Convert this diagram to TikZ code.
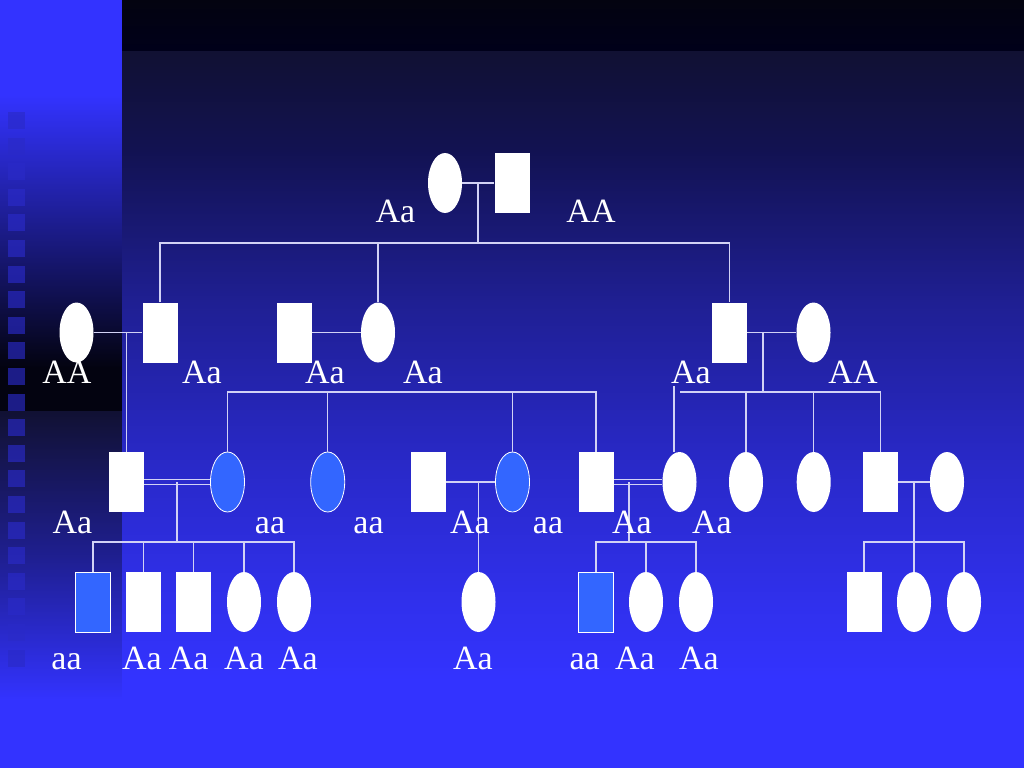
\documentclass[tikz,border=0pt]{standalone}
\usepackage{fontspec}
\setmainfont{Liberation Serif}
\usetikzlibrary{shapes.geometric}
\definecolor{bgblue}{HTML}{3333FF}
\definecolor{bgdark}{HTML}{111133}
\definecolor{bgA}{HTML}{121252}
\definecolor{bgB}{HTML}{1F1F92}
\definecolor{bgC}{HTML}{2828C4}
\definecolor{bgD}{HTML}{3030EC}
\definecolor{stripdark}{HTML}{00001A}
\definecolor{striptop}{HTML}{030310}
\definecolor{banddark}{HTML}{030310}
\definecolor{sqcol}{HTML}{2A2AC8}
\definecolor{affblue}{HTML}{3366FF}
\definecolor{linecol}{RGB}{210,210,245}
\tikzset{
  fem/.style={ellipse, fill=white, minimum width=34pt, minimum height=60pt, inner sep=0pt},
  mal/.style={rectangle, fill=white, minimum width=35pt, minimum height=60pt, inner sep=0pt},
  aff/.style={fill=affblue, draw=white, line width=0.8pt},
  lbl/.style={text=white, font=\fontsize{34}{40}\selectfont, anchor=base, inner sep=0pt},
  ln/.style={draw=linecol, line width=1.3pt}
}
\begin{document}
\begin{tikzpicture}[x=1pt,y=-1pt]
% ---------- background ----------
\useasboundingbox (0,0) rectangle (1024,768);
% left band
\fill[bgblue] (0,0) rectangle (122,96);
\shade[top color=bgblue, bottom color=banddark] (0,95) rectangle (122,368);
\fill[banddark] (0,367) rectangle (122,412);
\shade[top color=bgdark, bottom color=bgB] (0,411) rectangle (122,560);
\shade[top color=bgB, bottom color=bgblue] (0,559) rectangle (122,700);
\fill[bgblue] (0,699) rectangle (122,768);
\foreach \k in {0,...,21} {
  \fill[sqcol, opacity=0.65] (8,{112+25.6*\k}) rectangle (25,{129+25.6*\k});
}
% main area
\shade[top color=striptop, bottom color=stripdark] (122,0) rectangle (1024,52);
\shade[top color=bgdark, bottom color=bgA] (122,52) rectangle (1024,151);
\shade[top color=bgA, bottom color=bgB] (122,150) rectangle (1024,301);
\shade[top color=bgB, bottom color=bgC] (122,300) rectangle (1024,451);
\shade[top color=bgC, bottom color=bgD] (122,450) rectangle (1024,601);
\shade[top color=bgD, bottom color=bgblue] (122,600) rectangle (1024,681);
\fill[bgblue] (122,680) rectangle (1024,768);

% ---------- generation I ----------
\node[fem] (a1) at (445,183) {};
\node[mal] (a2) at (512,183) {};
% ---------- generation II ----------
\node[fem] (b1) at (76.5,332.5) {};
\node[mal] (b2) at (160,332.5) {};
\node[mal] (b3) at (294.5,332.5) {};
\node[fem] (b4) at (378,332.5) {};
\node[mal] (b5) at (729.5,332.5) {};
\node[fem] (b6) at (813.5,332.5) {};
% ---------- generation III ----------
\node[mal] (c1) at (126.7,482) {};
\node[fem,aff] (c2) at (227.5,482) {};
\node[fem,aff] (c3) at (327.7,482) {};
\node[mal] (c4) at (428.5,482) {};
\node[fem,aff] (c5) at (512.5,482) {};
\node[mal] (c6) at (596,482) {};
\node[fem] (c7) at (679.5,482) {};
\node[fem] (c8) at (746,482) {};
\node[fem] (c9) at (813.7,482) {};
\node[mal] (c10) at (880.5,482) {};
\node[fem] (c11) at (947,482) {};
% ---------- generation IV ----------
\node[mal,aff] (d1) at (93,602) {};
\node[mal] (d2) at (143.7,602) {};
\node[mal] (d3) at (193.7,602) {};
\node[fem] (d4) at (244,602) {};
\node[fem] (d5) at (294,602) {};
\node[fem] (d6) at (478.5,602) {};
\node[mal,aff] (d7) at (596,602) {};
\node[fem] (d8) at (646,602) {};
\node[fem] (d9) at (696,602) {};
\node[mal] (d10) at (864,602) {};
\node[fem] (d11) at (914,602) {};
\node[fem] (d12) at (964,602) {};

% ---------- connectors ----------
% gen I
\draw[ln] (a1.east) -- (a2.west);
\coordinate (s1) at (478,243);
\draw[ln] (s1 |- a1) -- (s1);
\draw[ln] (b2.north) |- (s1) -| (b5.north);
\draw[ln] (b4.north) -- (b4.north |- s1);
% gen II
\draw[ln] (b1.east) -- (b2.west);
\draw[ln] (c1.north) -- (c1.north |- b1);
\draw[ln] (b3.east) -- (b4.west);
\draw[ln] (b5.east) -- (b6.west);
\coordinate (s3) at (763,392);
\draw[ln] (s3 |- b5) -- (s3);
\coordinate (s3L) at (680,392);
\draw[ln] (s3L) -| (c10.north);
\draw[ln] (c8.north) -- (c8.north |- s3);
\draw[ln] (c9.north) -- (c9.north |- s3);
\coordinate (t7) at (674,386);
\draw[ln] (t7) -- (t7 |- c7.north);
\coordinate (s2) at (227.5,392);
\draw[ln] (c2.north) |- (s2) -| (c6.north);
\draw[ln] (c3.north) -- (c3.north |- s2);
\draw[ln] (c5.north) -- (c5.north |- s2);
% gen III
\draw[ln] ([yshift=2.2pt]c1.east) -- ([yshift=2.2pt]c2.west);
\draw[ln] ([yshift=-2.2pt]c1.east) -- ([yshift=-2.2pt]c2.west);
\coordinate (s4) at (177,542);
\draw[ln] (s4 |- c1) -- (s4);
\draw[ln] (d1.north) |- (s4) -| (d5.north);
\draw[ln] (d2.north) -- (d2.north |- s4);
\draw[ln] (d3.north) -- (d3.north |- s4);
\draw[ln] (d4.north) -- (d4.north |- s4);
\draw[ln] (c4.east) -- (c5.west);
\draw[ln] (d6.north) -- (d6.north |- c4);
\draw[ln] ([yshift=2.2pt]c6.east) -- ([yshift=2.2pt]c7.west);
\draw[ln] ([yshift=-2.2pt]c6.east) -- ([yshift=-2.2pt]c7.west);
\coordinate (s5) at (629,542);
\draw[ln] (s5 |- c6) -- (s5);
\draw[ln] (d7.north) |- (s5) -| (d9.north);
\draw[ln] (d8.north) -- (d8.north |- s5);
\draw[ln] (c10.east) -- (c11.west);
\coordinate (s6) at (914,542);
\draw[ln] (d10.north) |- (s6) -| (d12.north);
\draw[ln] (d11.north) -- (d11.north |- c10);

% ---------- labels ----------
\node[lbl] (la1) at (395.5,222) {Aa};
\node[lbl] (la2) at (591,222) {AA};
\node[lbl] (lb1) at (67,383) {AA};
\node[lbl] (lb2) at (202,383) {Aa};
\node[lbl] (lb3) at (325,383) {Aa};
\node[lbl] (lb4) at (423,383) {Aa};
\node[lbl] (lb5) at (691,383) {Aa};
\node[lbl] (lb6) at (853,383) {AA};
\node[lbl] (lc1) at (72.5,533) {Aa};
\node[lbl] (lc2) at (270,533) {aa};
\node[lbl] (lc3) at (368.5,533) {aa};
\node[lbl] (lc4) at (470,533) {Aa};
\node[lbl] (lc5) at (548,533) {aa};
\node[lbl] (lc6) at (632,533) {Aa};
\node[lbl] (lc7) at (712,533) {Aa};
\node[lbl] (ld1) at (66.5,669) {aa};
\node[lbl] (ld2) at (142,669) {Aa};
\node[lbl] (ld3) at (188.7,669) {Aa};
\node[lbl] (ld4) at (244,669) {Aa};
\node[lbl] (ld5) at (298,669) {Aa};
\node[lbl] (ld6) at (473,669) {Aa};
\node[lbl] (ld7) at (584.6,669) {aa};
\node[lbl] (ld8) at (635,669) {Aa};
\node[lbl] (ld9) at (699,669) {Aa};
\end{tikzpicture}
\end{document}
